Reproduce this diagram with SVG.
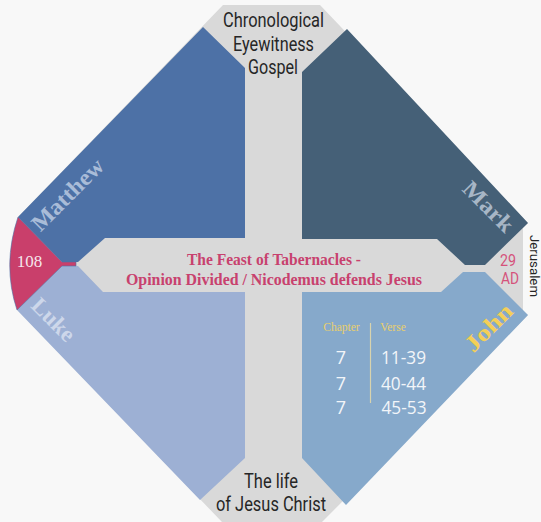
<svg xmlns="http://www.w3.org/2000/svg" width="541" height="522" viewBox="0 0 541 522">
<style>
.hp{font-family:"Roboto","Liberation Sans",sans-serif;font-size:20px;fill:#262626;text-anchor:middle}
.title{font-family:"Liberation Serif",serif;font-weight:bold;font-size:23px;text-anchor:middle}
.red{font-family:"Liberation Serif",serif;font-weight:bold;font-size:16px;fill:#c8416e;text-anchor:middle}
.hd{font-family:"Liberation Serif",serif;font-size:11.500px;fill:#e9cf6c;text-anchor:middle}
.num{font-family:"Open Sans",sans-serif;font-size:18px;fill:#f2f5f9;text-anchor:middle}
.date{font-family:"Roboto","Liberation Sans",sans-serif;font-size:16px;fill:#d5527b;text-anchor:middle}
</style>
<rect width="541" height="522" fill="#f8f8f8"/>
<g id="frame"><polygon points="223,5 320,5 528,223 523,228 523,312 528,315 322,522 222,522 18,310 18,217" fill="#d9d9d9"/></g>
<g id="matthew"><polygon points="18,217 203,27 245,68 245,238 105,238 78,262 62,262" fill="#4d71a6"/>
<text class="title" transform="translate(73,200) rotate(-45)" fill="#a9bcd8" textLength="92" lengthAdjust="spacingAndGlyphs">Matthew</text></g>
<g id="mark"><polygon points="302,72 347,29 528,223 485,265 465,265 437,239 302,239" fill="#456077"/>
<text class="title" transform="translate(483,212) rotate(45)" fill="#a7b6c6" textLength="62" lengthAdjust="spacingAndGlyphs">Mark</text></g>
<g id="luke"><polygon points="17,310 62,266 78,266 103,292 245,292 245,458 200,500" fill="#9db0d4"/>
<text class="title" transform="translate(48,325) rotate(45)" fill="#cdd7ea" textLength="52" lengthAdjust="spacingAndGlyphs">Luke</text></g>
<g id="john"><polygon points="302,292 441,292 463,272 485,272 528,315 346,505 302,458" fill="#86a9cb"/>
<text class="title" transform="translate(494,333) rotate(-45)" fill="#f4cf57" textLength="58" lengthAdjust="spacingAndGlyphs">John</text></g>
<g id="marker-108"><path d="M18,217 Q2,265 17,310 L62,266 L76,266 L76,262 L62,262 Z" fill="#c93f6b" stroke="#4d71a6" stroke-width="0.6"/>
<text x="29.500" y="267" font-family="Liberation Serif, serif" font-size="17" fill="#f5e6ec" text-anchor="middle">108</text></g>
<g id="top-label"><text class="hp" x="273.500" y="27" textLength="101" lengthAdjust="spacingAndGlyphs">Chronological</text><text class="hp" x="273.500" y="51" textLength="81" lengthAdjust="spacingAndGlyphs">Eyewitness</text><text class="hp" x="273" y="74" textLength="50" lengthAdjust="spacingAndGlyphs">Gospel</text></g>
<g id="bottom-label"><text class="hp" x="271" y="488" textLength="54" lengthAdjust="spacingAndGlyphs">The life</text><text class="hp" x="271" y="511" textLength="110" lengthAdjust="spacingAndGlyphs">of Jesus Christ</text></g>
<g id="centre-label"><text class="red" x="274" y="265" textLength="174" lengthAdjust="spacingAndGlyphs">The Feast of Tabernacles -</text><text class="red" x="274" y="285" textLength="296" lengthAdjust="spacingAndGlyphs">Opinion Divided / Nicodemus defends Jesus</text></g>
<g id="date"><text class="date" x="508" y="266" textLength="16" lengthAdjust="spacingAndGlyphs">29</text><text class="date" x="510" y="284" textLength="18" lengthAdjust="spacingAndGlyphs">AD</text></g>
<g id="place"><text transform="translate(530,266) rotate(90)" font-family="Roboto, Liberation Sans, sans-serif" font-size="13" fill="#262626" text-anchor="middle" textLength="62" lengthAdjust="spacingAndGlyphs">Jerusalem</text></g>
<g id="table">
<text class="hd" x="341.500" y="331">Chapter</text><text class="hd" x="393" y="331">Verse</text>
<line x1="370.500" y1="323" x2="370.500" y2="403" stroke="#d8d3ae" stroke-width="1.200"/>
<text class="num" x="341" y="364">7</text><text class="num" x="403.500" y="364" textLength="45" lengthAdjust="spacingAndGlyphs">11-39</text>
<text class="num" x="341" y="390">7</text><text class="num" x="403.500" y="390" textLength="45" lengthAdjust="spacingAndGlyphs">40-44</text>
<text class="num" x="341" y="414">7</text><text class="num" x="404" y="414" textLength="45" lengthAdjust="spacingAndGlyphs">45-53</text>
</g>
</svg>
